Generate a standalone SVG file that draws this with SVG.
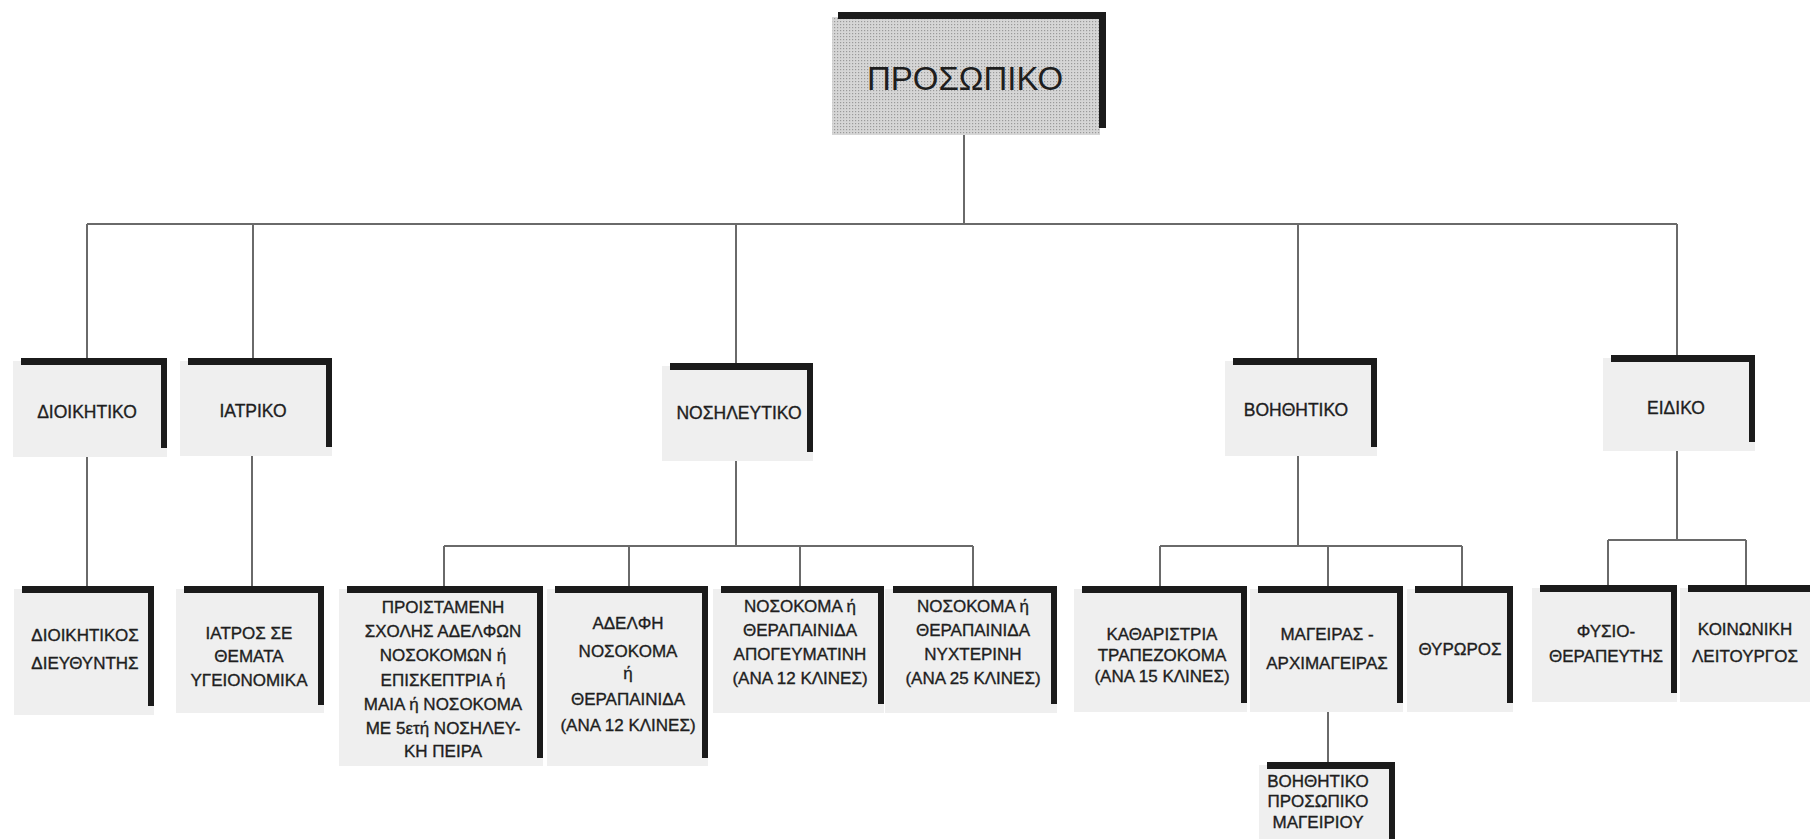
<svg xmlns="http://www.w3.org/2000/svg" width="1810" height="839" viewBox="0 0 1810 839">
<defs>
<pattern id="dots" width="3" height="3" patternUnits="userSpaceOnUse">
<rect width="3" height="3" fill="#d6d6d6"/>
<rect width="1.2" height="1.2" fill="#9a9a9a"/>
</pattern>
</defs>
<style>
.bg{fill:#efefef}
.bar{fill:#1b1b1b}
.ln{stroke:#6a6a6a;stroke-width:2;fill:none}
text{font-family:"Liberation Sans",Arial,sans-serif;fill:#1e1e1e;text-anchor:middle}
.t1{font-size:33px}
.t2{font-size:17.5px;stroke:#1e1e1e;stroke-width:0.35}
.t3{font-size:17px;stroke:#1e1e1e;stroke-width:0.35}
</style>
<rect width="1810" height="839" fill="#ffffff"/>

<g id="connectors">
<path class="ln" d="M964 135V224M87 224H1677M87 224V358M253 224V358M736 224V363M1298 224V358M1677 224V355"/>
<path class="ln" d="M87 457V586M252 448V586"/>
<path class="ln" d="M736 452V546M444 546H973M444 546V586M629 546V586M800 546V586M973 546V586"/>
<path class="ln" d="M1298 447V546M1160 546H1462M1160 546V586M1328 546V586M1462 546V586"/>
<path class="ln" d="M1677 442V540M1608 540H1746M1608 540V585M1746 540V585"/>
<path class="ln" d="M1328 706V762"/>
</g>

<g id="n-prosopiko">
<rect x="832" y="17" width="268" height="118" fill="url(#dots)"/>
<rect class="bar" x="838" y="12" width="268" height="7"/>
<rect class="bar" x="1099" y="12" width="7" height="116"/>
<text class="t1" x="965" y="90">ΠΡΟΣΩΠΙΚΟ</text>
</g>

<g id="n-dioikitiko">
<rect class="bg" x="13" y="361" width="154" height="96"/>
<rect class="bar" x="21" y="358" width="146" height="7"/>
<rect class="bar" x="161" y="358" width="6" height="90"/>
<text class="t2" x="87" y="418">ΔΙΟΙΚΗΤΙΚΟ</text>
</g>

<g id="n-iatriko">
<rect class="bg" x="180" y="361" width="152" height="95"/>
<rect class="bar" x="188" y="358" width="144" height="7"/>
<rect class="bar" x="326" y="358" width="6" height="89"/>
<text class="t2" x="253" y="417">ΙΑΤΡΙΚΟ</text>
</g>

<g id="n-nosileftiko">
<rect class="bg" x="662" y="366" width="151" height="95"/>
<rect class="bar" x="670" y="363" width="143" height="7"/>
<rect class="bar" x="807" y="363" width="6" height="89"/>
<text class="t2" x="739" y="419">ΝΟΣΗΛΕΥΤΙΚΟ</text>
</g>

<g id="n-voithitiko">
<rect class="bg" x="1225" y="361" width="152" height="95"/>
<rect class="bar" x="1233" y="358" width="144" height="7"/>
<rect class="bar" x="1371" y="358" width="6" height="89"/>
<text class="t2" x="1296" y="416">ΒΟΗΘΗΤΙΚΟ</text>
</g>

<g id="n-eidiko">
<rect class="bg" x="1603" y="358" width="152" height="93"/>
<rect class="bar" x="1611" y="355" width="144" height="7"/>
<rect class="bar" x="1749" y="355" width="6" height="87"/>
<text class="t2" x="1676" y="414">ΕΙΔΙΚΟ</text>
</g>

<g id="n-dioikitikos-diefthyntis">
<rect class="bg" x="14" y="589" width="140" height="126"/>
<rect class="bar" x="22" y="586" width="132" height="7"/>
<rect class="bar" x="148" y="586" width="6" height="120"/>
<text class="t3" x="85"><tspan x="85" y="641">ΔΙΟΙΚΗΤΙΚΟΣ</tspan><tspan x="85" y="669">ΔΙΕΥΘΥΝΤΗΣ</tspan></text>
</g>

<g id="n-iatros">
<rect class="bg" x="176" y="589" width="148" height="124"/>
<rect class="bar" x="184" y="586" width="140" height="7"/>
<rect class="bar" x="318" y="586" width="6" height="119"/>
<text class="t3" x="249"><tspan x="249" y="639">ΙΑΤΡΟΣ ΣΕ</tspan><tspan x="249" y="662">ΘΕΜΑΤΑ</tspan><tspan x="249" y="686">ΥΓΕΙΟΝΟΜΙΚΑ</tspan></text>
</g>

<g id="n-proistameni">
<rect class="bg" x="339" y="589" width="204" height="177"/>
<rect class="bar" x="347" y="586" width="196" height="7"/>
<rect class="bar" x="537" y="586" width="6" height="172"/>
<text class="t3" x="443"><tspan x="443" y="613">ΠΡΟΙΣΤΑΜΕΝΗ</tspan><tspan x="443" y="637">ΣΧΟΛΗΣ ΑΔΕΛΦΩΝ</tspan><tspan x="443" y="661">ΝΟΣΟΚΟΜΩΝ ή</tspan><tspan x="443" y="686">ΕΠΙΣΚΕΠΤΡΙΑ ή</tspan><tspan x="443" y="710">ΜΑΙΑ ή ΝΟΣΟΚΟΜΑ</tspan><tspan x="443" y="734">ΜΕ 5ετή ΝΟΣΗΛΕΥ-</tspan><tspan x="443" y="757">ΚΗ ΠΕΙΡΑ</tspan></text>
</g>

<g id="n-adelfi">
<rect class="bg" x="547" y="589" width="161" height="177"/>
<rect class="bar" x="555" y="586" width="153" height="7"/>
<rect class="bar" x="702" y="586" width="6" height="172"/>
<text class="t3" x="628"><tspan x="628" y="629">ΑΔΕΛΦΗ</tspan><tspan x="628" y="657">ΝΟΣΟΚΟΜΑ</tspan><tspan x="628" y="679">ή</tspan><tspan x="628" y="705">ΘΕΡΑΠΑΙΝΙΔΑ</tspan><tspan x="628" y="731">(ΑΝΑ 12 ΚΛΙΝΕΣ)</tspan></text>
</g>

<g id="n-nosokoma-apogevmatini">
<rect class="bg" x="713" y="589" width="171" height="124"/>
<rect class="bar" x="721" y="586" width="163" height="7"/>
<rect class="bar" x="878" y="586" width="6" height="118"/>
<text class="t3" x="800"><tspan x="800" y="612">ΝΟΣΟΚΟΜΑ ή</tspan><tspan x="800" y="636">ΘΕΡΑΠΑΙΝΙΔΑ</tspan><tspan x="800" y="660">ΑΠΟΓΕΥΜΑΤΙΝΗ</tspan><tspan x="800" y="684">(ΑΝΑ 12 ΚΛΙΝΕΣ)</tspan></text>
</g>

<g id="n-nosokoma-nychterini">
<rect class="bg" x="885" y="589" width="172" height="124"/>
<rect class="bar" x="893" y="586" width="164" height="7"/>
<rect class="bar" x="1051" y="586" width="6" height="118"/>
<text class="t3" x="973"><tspan x="973" y="612">ΝΟΣΟΚΟΜΑ ή</tspan><tspan x="973" y="636">ΘΕΡΑΠΑΙΝΙΔΑ</tspan><tspan x="973" y="660">ΝΥΧΤΕΡΙΝΗ</tspan><tspan x="973" y="684">(ΑΝΑ 25 ΚΛΙΝΕΣ)</tspan></text>
</g>

<g id="n-katharistria">
<rect class="bg" x="1074" y="589" width="173" height="123"/>
<rect class="bar" x="1082" y="586" width="165" height="7"/>
<rect class="bar" x="1241" y="586" width="6" height="117"/>
<text class="t3" x="1162"><tspan x="1162" y="640">ΚΑΘΑΡΙΣΤΡΙΑ</tspan><tspan x="1162" y="661">ΤΡΑΠΕΖΟΚΟΜΑ</tspan><tspan x="1162" y="682">(ΑΝΑ 15 ΚΛΙΝΕΣ)</tspan></text>
</g>

<g id="n-mageiras">
<rect class="bg" x="1250" y="589" width="153" height="123"/>
<rect class="bar" x="1258" y="586" width="145" height="7"/>
<rect class="bar" x="1397" y="586" width="6" height="117"/>
<text class="t3" x="1327"><tspan x="1327" y="640">ΜΑΓΕΙΡΑΣ -</tspan><tspan x="1327" y="669">ΑΡΧΙΜΑΓΕΙΡΑΣ</tspan></text>
</g>

<g id="n-thyroros">
<rect class="bg" x="1407" y="589" width="106" height="123"/>
<rect class="bar" x="1415" y="586" width="98" height="7"/>
<rect class="bar" x="1507" y="586" width="6" height="117"/>
<text class="t3" x="1460" y="655">ΘΥΡΩΡΟΣ</text>
</g>

<g id="n-fysiotherapeftis">
<rect class="bg" x="1532" y="588" width="145" height="114"/>
<rect class="bar" x="1540" y="585" width="137" height="7"/>
<rect class="bar" x="1671" y="585" width="6" height="108"/>
<text class="t3" x="1606"><tspan x="1606" y="637">ΦΥΣΙΟ-</tspan><tspan x="1606" y="662">ΘΕΡΑΠΕΥΤΗΣ</tspan></text>
</g>

<g id="n-koinoniki">
<rect class="bg" x="1680" y="588" width="136" height="114"/>
<rect class="bar" x="1688" y="585" width="128" height="7"/>
<text class="t3" x="1745"><tspan x="1745" y="635">ΚΟΙΝΩΝΙΚΗ</tspan><tspan x="1745" y="662">ΛΕΙΤΟΥΡΓΟΣ</tspan></text>
</g>

<g id="n-voithitiko-mageiriou">
<rect class="bg" x="1259" y="765" width="136" height="80"/>
<rect class="bar" x="1267" y="762" width="128" height="7"/>
<rect class="bar" x="1389" y="762" width="6" height="80"/>
<text class="t3" x="1318"><tspan x="1318" y="787">ΒΟΗΘΗΤΙΚΟ</tspan><tspan x="1318" y="807">ΠΡΟΣΩΠΙΚΟ</tspan><tspan x="1318" y="828">ΜΑΓΕΙΡΙΟΥ</tspan></text>
</g>
</svg>
